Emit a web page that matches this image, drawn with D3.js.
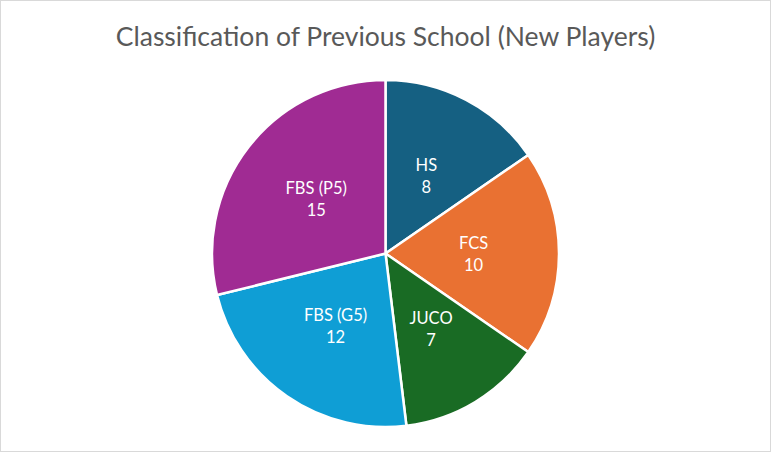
<!DOCTYPE html>
<html><head><meta charset="utf-8">
<script src="https://cdn.jsdelivr.net/npm/d3@7"></script>
<style>html,body{margin:0;padding:0;background:#fff;}svg{display:block;}</style>
</head><body>
<svg id="chart" width="771" height="452"></svg>
<script>
const categories = ["HS", "FCS", "JUCO", "FBS (G5)", "FBS (P5)"];
const values = [8, 10, 7, 12, 15];
const colors = ["#156082", "#E97132", "#196B24", "#0F9ED5", "#A02B93"];
const title = "Classification of Previous School (New Players)";

const svg = d3.select("#chart");
const W = 771, H = 452;
svg.append("rect").attr("x", 0.5).attr("y", 0.5).attr("width", W - 1).attr("height", H - 1)
  .attr("fill", "#fff").attr("stroke", "#d9d9d9");

svg.append("text").attr("x", 385.5).attr("y", 46).attr("text-anchor", "middle")
  .attr("font-family", "Lato, 'Open Sans', sans-serif").attr("font-size", 26.5)
  .attr("fill", "#595959").text(title);

const data = categories.map((c, i) => ({cat: c, val: values[i], color: colors[i]}));
const pie = d3.pie().value(d => d.val).sort(null);
const R = 173.5;
const arc = d3.arc().innerRadius(0).outerRadius(R);
const labelArc = d3.arc().innerRadius(88).outerRadius(88);
const g = svg.append("g").attr("transform", "translate(385.5,253.5)");
const arcs = pie(data);
g.selectAll("path").data(arcs).join("path")
  .attr("d", arc).attr("fill", d => d.data.color)
  .attr("stroke", "#fff").attr("stroke-width", 2.5).attr("stroke-linejoin", "round");

const lbl = g.selectAll("text.lbl").data(arcs).join("text").attr("class", "lbl")
  .attr("transform", d => `translate(${labelArc.centroid(d)})`)
  .attr("text-anchor", "middle").attr("fill", "#fff")
  .attr("font-family", "Lato, 'Open Sans', sans-serif").attr("font-size", 16.5);
lbl.append("tspan").attr("x", 0).attr("y", -5).text(d => d.data.cat);
lbl.append("tspan").attr("x", 0).attr("y", 17).text(d => d.data.val);
</script>
</body></html>
